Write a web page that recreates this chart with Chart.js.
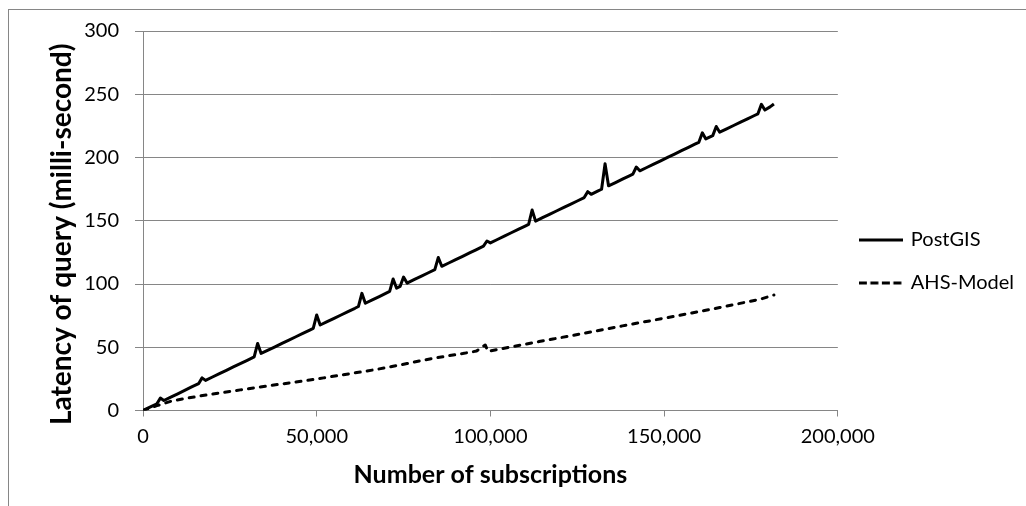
<!DOCTYPE html>
<html>
<head>
<meta charset="utf-8">
<title>Query latency vs subscriptions</title>
<script src="https://cdn.jsdelivr.net/npm/chart.js@4"></script>
<style>
  html, body { margin: 0; padding: 0; background: #fff; overflow: hidden; }
  canvas { display: block; }
</style>
</head>
<body>
<canvas id="latencyChart" width="1040" height="530"></canvas>
<script>
    // Series labels
    const seriesNames = ['PostGIS', 'AHS-Model'];

    // PostGIS: number of subscriptions and query latency (ms)
    const postgisSubs = [
        0, 2000, 4000, 5000, 6000, 8000, 10000, 12000, 14000, 16000, 17000, 18000,
        20000, 22000, 24000, 26000, 28000, 30000, 32000, 33000, 34000, 36000, 38000,
        40000, 42000, 44000, 46000, 48000, 49000, 50000, 51000, 53000, 55000, 57000,
        59000, 61000, 62000, 63000, 64000, 66000, 68000, 70000, 71000, 72000, 73000,
        74000, 75000, 76000, 78000, 80000, 82000, 84000, 85000, 86000, 88000, 90000,
        92000, 94000, 96000, 98000, 99000, 100000, 102000, 104000, 106000, 108000,
        110000, 111000, 112000, 113000, 115000, 117000, 119000, 121000, 123000, 125000,
        127000, 128000, 129000, 131000, 132000, 133000, 134000, 136000, 138000, 140000,
        141000, 142000, 143000, 145000, 147000, 149000, 151000, 153000, 155000, 157000,
        159000, 160000, 161000, 162000, 164000, 165000, 166000, 168000, 170000, 172000,
        174000, 176000, 177000, 178000, 179000, 180500, 181600
    ];
    const postgisMs = [
        0, 2.7, 5.3, 9.8, 7.9, 10.6, 13.2, 15.9, 18.6, 21.2, 25.8, 23.8,
        26.5, 29.2, 31.8, 34.5, 37.1, 39.7, 42.4, 53.0, 45.1, 47.7, 50.3,
        53.0, 55.6, 58.3, 60.9, 63.6, 64.9, 75.5, 67.6, 70.2, 72.9, 75.5,
        78.2, 80.8, 82.2, 92.6, 84.8, 87.5, 90.1, 92.8, 94.1, 104.0, 96.7,
        98.1, 105.5, 100.7, 103.4, 106.0, 108.7, 111.3, 121.0, 114.0, 116.6, 119.3,
        121.9, 124.6, 127.2, 129.9, 134.0, 132.5, 135.2, 137.8, 140.5, 143.1,
        145.8, 147.1, 158.5, 149.7, 152.4, 155.0, 157.7, 160.3, 163.0, 165.6,
        168.3, 173.0, 170.9, 173.6, 174.9, 195.0, 177.6, 180.2, 182.9, 185.5,
        186.8, 192.5, 189.5, 192.1, 194.8, 197.4, 200.1, 202.7, 205.4, 208.0,
        210.7, 212.0, 219.5, 214.7, 217.3, 224.5, 220.0, 222.6, 225.3, 227.9,
        230.6, 233.2, 234.5, 242.0, 237.5, 240.0, 242.3
    ];

    // AHS-Model: number of subscriptions and query latency (ms)
    const ahsSubs = [
        0, 4000, 8000, 12000, 16000, 20000, 24000, 28000, 32000, 36000, 40000,
        44000, 48000, 52000, 56000, 60000, 64000, 68000, 72000, 76000, 80000,
        84000, 88000, 92000, 96000, 98500, 99300, 102000, 106000, 110000, 114000,
        118000, 122000, 126000, 130000, 134000, 138000, 142000, 146000, 150000,
        154000, 158000, 162000, 166000, 170000, 174000, 178000, 181600
    ];
    const ahsMs = [
        0, 3.8, 7.3, 9.4, 11.3, 13.0, 14.7, 16.3, 17.9, 19.5, 21.0,
        22.5, 24.1, 25.8, 27.6, 29.3, 31.0, 32.9, 35.0, 37.1, 39.4,
        41.4, 43.3, 45.0, 47.0, 51.8, 46.8, 48.2, 50.3, 52.4, 54.5,
        56.5, 58.5, 60.6, 62.7, 64.8, 66.9, 68.9, 70.9, 73.0,
        75.0, 77.1, 79.2, 81.4, 83.6, 85.9, 88.2, 91.3
    ];

    // Axis ranges and steps
    const xTicks = { min: 0, max: 200000, step: 50000 };
    const yTicks = { min: 0, max: 300, step: 50 };

    const gridGray = '#868686';
    const tickFont = { family: 'Lato', size: 20 };

    function toPoints(xs, ys) {
        return xs.map((x, i) => ({ x: x, y: ys[i] }));
    }

    // Small line swatches for the legend (solid and dashed)
    function legendSwatch(dash) {
        const c = document.createElement('canvas');
        c.width = 44;
        c.height = 6;
        const g = c.getContext('2d');
        g.strokeStyle = '#000';
        g.lineWidth = 3;
        g.setLineDash(dash);
        g.beginPath();
        g.moveTo(0, 3);
        g.lineTo(44, 3);
        g.stroke();
        return c;
    }

    // Outer frame around the whole chart
    const framePlugin = {
        id: 'frame',
        beforeDraw(chart) {
            const ctx = chart.ctx;
            ctx.save();
            ctx.fillStyle = '#fff';
            ctx.fillRect(0, 0, chart.width, chart.height);
            ctx.strokeStyle = gridGray;
            ctx.lineWidth = 1;
            ctx.strokeRect(8.5, 9.5, chart.width - 10, chart.height - 12);
            ctx.restore();
        }
    };

    const ctx = document.getElementById('latencyChart').getContext('2d');
    const latencyChart = new Chart(ctx, {
        type: 'line',
        data: {
            datasets: [{
                label: seriesNames[0],
                data: toPoints(postgisSubs, postgisMs),
                borderColor: '#000',
                backgroundColor: '#000',
                borderWidth: 3,
                borderJoinStyle: 'round',
                pointRadius: 0,
                pointStyle: legendSwatch([]),
                tension: 0
            }, {
                label: seriesNames[1],
                data: toPoints(ahsSubs, ahsMs),
                borderColor: '#000',
                backgroundColor: '#000',
                borderWidth: 3,
                borderDash: [5, 7],
                borderCapStyle: 'round',
                borderJoinStyle: 'round',
                pointRadius: 0,
                pointStyle: legendSwatch([8, 3.5]),
                tension: 0
            }]
        },
        options: {
            responsive: false,
            animation: false,
            devicePixelRatio: 1,
            locale: 'en-US',
            layout: {
                padding: { left: 0, top: 31, right: 16, bottom: 38 }
            },
            scales: {
                x: {
                    type: 'linear',
                    min: xTicks.min,
                    max: xTicks.max,
                    afterFit(scale) { scale.height = 81.5; },
                    ticks: {
                        stepSize: xTicks.step,
                        color: '#000',
                        font: tickFont,
                        padding: 8,
                        maxRotation: 0
                    },
                    grid: {
                        drawOnChartArea: false,
                        drawTicks: true,
                        tickLength: 6,
                        color: gridGray
                    },
                    border: { color: gridGray, width: 1 },
                    title: {
                        display: true,
                        text: 'Number of subscriptions',
                        color: '#000',
                        font: { family: 'Lato', size: 25, weight: 'bold' },
                        padding: { top: 0, bottom: 2 }
                    }
                },
                y: {
                    min: yTicks.min,
                    max: yTicks.max,
                    afterFit(scale) { scale.width = 143; },
                    ticks: {
                        stepSize: yTicks.step,
                        color: '#000',
                        font: tickFont,
                        padding: 16
                    },
                    grid: {
                        color: gridGray,
                        tickLength: 8
                    },
                    border: { color: gridGray, width: 1 },
                    title: {
                        display: true,
                        // trailing spaces push the rotated title a little lower
                        text: 'Latency of query (milli-second)    ',
                        color: '#000',
                        font: { family: 'Lato', size: 28, weight: 'bold' },
                        padding: { top: 45.5, bottom: 0 }
                    }
                }
            },
            plugins: {
                legend: {
                    position: 'right',
                    labels: {
                        usePointStyle: true,
                        pointStyleWidth: 40,
                        color: '#000',
                        font: tickFont,
                        padding: 23
                    }
                },
                tooltip: { enabled: false }
            }
        },
        plugins: [framePlugin]
    });
</script>
</body>
</html>
